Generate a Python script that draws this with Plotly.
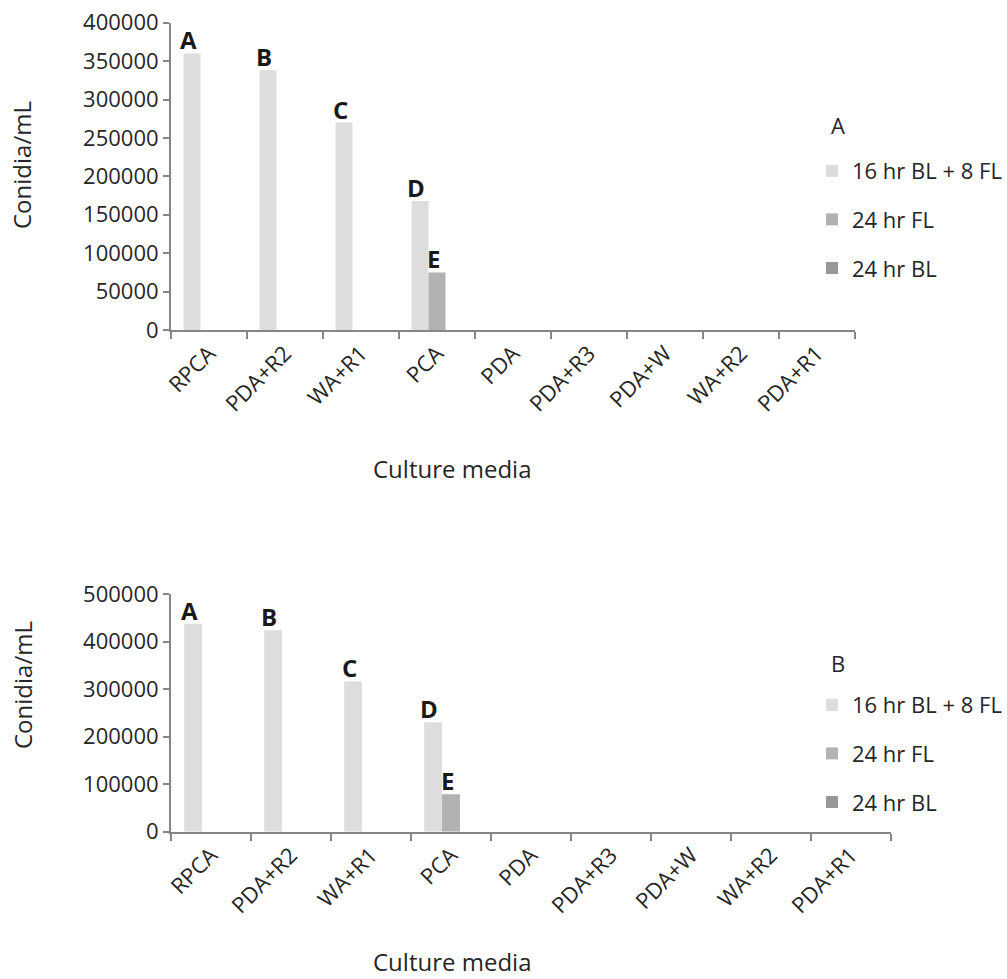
import plotly.graph_objects as go

categories = ["RPCA", "PDA+R2", "WA+R1", "PCA", "PDA", "PDA+R3", "PDA+W", "WA+R2", "PDA+R1"]
series_names = ["16 hr BL + 8 FL", "24 hr FL", "24 hr BL"]

# Panel A values (conidia/mL)
a_16bl_8fl = [360000, 338000, 270000, 168000, 0, 0, 0, 0, 0]
a_24fl = [0, 0, 0, 75000, 0, 0, 0, 0, 0]
a_24bl = [0, 0, 0, 0, 0, 0, 0, 0, 0]

# Panel B values (conidia/mL)
b_16bl_8fl = [437000, 424000, 316000, 230000, 0, 0, 0, 0, 0]
b_24fl = [0, 0, 0, 79000, 0, 0, 0, 0, 0]
b_24bl = [0, 0, 0, 0, 0, 0, 0, 0, 0]

# Letter labels: (category, series index, letter)
a_letters = [("RPCA", 0, "A"), ("PDA+R2", 0, "B"), ("WA+R1", 0, "C"), ("PCA", 0, "D"), ("PCA", 1, "E")]
b_letters = [("RPCA", 0, "A"), ("PDA+R2", 0, "B"), ("WA+R1", 0, "C"), ("PCA", 0, "D"), ("PCA", 1, "E")]

colors = ["#dddddd", "#b2b2b2", "#989898"]
FONT = "Open Sans"
TXT = "#262626"
AXC = "#868686"
BARGAP = 0.33

W, H = 1007, 979

fig = go.Figure()

panel_a = [a_16bl_8fl, a_24fl, a_24bl]
panel_b = [b_16bl_8fl, b_24fl, b_24bl]

for i, (name, vals) in enumerate(zip(series_names, panel_a)):
    fig.add_trace(go.Bar(x=categories, y=vals, name=name, marker_color=colors[i],
                         marker_line_width=0, xaxis="x", yaxis="y",
                         legend="legend", legendgroup="a%d" % i))
for i, (name, vals) in enumerate(zip(series_names, panel_b)):
    fig.add_trace(go.Bar(x=categories, y=vals, name=name, marker_color=colors[i],
                         marker_line_width=0, xaxis="x2", yaxis="y2",
                         legend="legend2", legendgroup="b%d" % i))

def px_x(p):
    return p / W

def px_y(p):
    return 1 - p / H

axis_common = dict(showline=True, linecolor=AXC, linewidth=2, showgrid=False, zeroline=False,
                   ticks="outside", tickcolor=AXC, tickwidth=2, automargin=False,
                   tickfont=dict(family=FONT, size=22, color=TXT))

legend_common = dict(xanchor="right", yanchor="top", x=1.0,
                     traceorder="grouped", tracegroupgap=17, itemwidth=30,
                     font=dict(family=FONT, size=22, color=TXT), bgcolor="rgba(0,0,0,0)")

fig.update_layout(
    template="none",
    width=W, height=H, autosize=False,
    margin=dict(l=0, r=0, t=0, b=0, pad=0),
    paper_bgcolor="white", plot_bgcolor="white",
    barmode="group", bargap=BARGAP, bargroupgap=0,
    font=dict(family=FONT, color=TXT),
    xaxis=dict(domain=[px_x(171), px_x(855)], anchor="y", type="category",
               categoryorder="array", categoryarray=categories,
               tickson="boundaries", ticklen=7, tickangle=-45, **axis_common),
    yaxis=dict(domain=[px_y(330), px_y(22.7)], anchor="x", range=[0, 400000],
               dtick=50000, tickformat="d", ticklen=6, **axis_common),
    xaxis2=dict(domain=[px_x(171), px_x(891)], anchor="y2", type="category",
                categoryorder="array", categoryarray=categories,
                tickson="boundaries", ticklen=7, tickangle=-45, **axis_common),
    yaxis2=dict(domain=[px_y(831.7), px_y(594)], anchor="x2", range=[0, 500000],
                dtick=100000, tickformat="d", ticklen=6, **axis_common),
    legend=dict(y=px_y(150), **legend_common),
    legend2=dict(y=px_y(684), **legend_common),
)

w = (1 - BARGAP) / 3
annotations = []
for (cat, s, letter) in a_letters:
    idx = categories.index(cat)
    val = panel_a[s][idx]
    annotations.append(dict(x=idx + (s - 1) * w, y=val, xref="x", yref="y", text="<b>%s</b>" % letter,
                            showarrow=False, xanchor="center", yanchor="bottom", yshift=-5, xshift=-4,
                            font=dict(family=FONT, size=24, color="#1a1a1a")))
for (cat, s, letter) in b_letters:
    idx = categories.index(cat)
    val = panel_b[s][idx]
    annotations.append(dict(x=idx + (s - 1) * w, y=val, xref="x2", yref="y2", text="<b>%s</b>" % letter,
                            showarrow=False, xanchor="center", yanchor="bottom", yshift=-5, xshift=-4,
                            font=dict(family=FONT, size=24, color="#1a1a1a")))

# axis titles and panel labels
for yc in (165, 685):
    annotations.append(dict(x=px_x(22), y=px_y(yc), xref="paper", yref="paper", text="Conidia/mL",
                            textangle=-90, showarrow=False, xanchor="center", yanchor="middle",
                            font=dict(family=FONT, size=24, color=TXT)))
for yc in (468, 961):
    annotations.append(dict(x=px_x(452), y=px_y(yc), xref="paper", yref="paper", text="Culture media",
                            showarrow=False, xanchor="center", yanchor="middle",
                            font=dict(family=FONT, size=24, color=TXT)))
annotations.append(dict(x=px_x(838), y=px_y(125), xref="paper", yref="paper", text="A",
                        showarrow=False, xanchor="center", yanchor="middle",
                        font=dict(family=FONT, size=22, color=TXT)))
annotations.append(dict(x=px_x(838), y=px_y(663), xref="paper", yref="paper", text="B",
                        showarrow=False, xanchor="center", yanchor="middle",
                        font=dict(family=FONT, size=22, color=TXT)))

fig.update_layout(annotations=annotations)

fig.write_html("out.html", config={"displayModeBar": False},
               post_script="document.body.style.margin='0';")
